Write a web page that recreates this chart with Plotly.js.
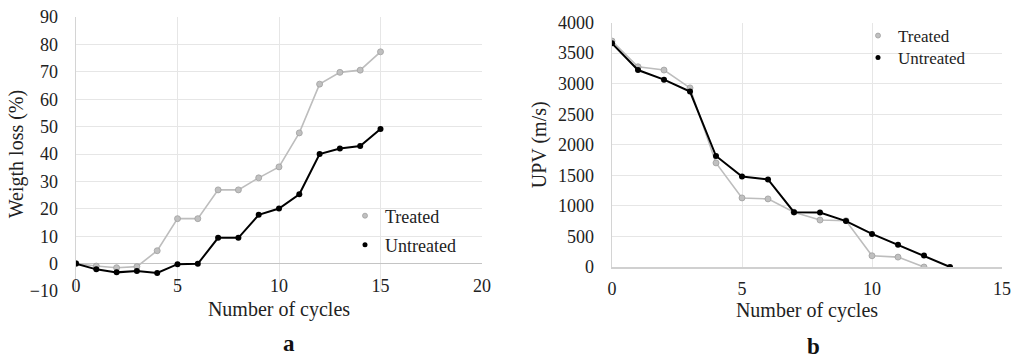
<!DOCTYPE html>
<html>
<head>
<meta charset="utf-8">
<script src="https://cdn.plot.ly/plotly-3.0.1.min.js"></script>
<style>html,body{margin:0;padding:0;background:#fff;}#chart{width:1011px;height:359px;}</style>
</head>
<body>
<div id="chart"></div>
<script>
// ---- data ----
const cyclesA = [0,1,2,3,4,5,6,7,8,9,10,11,12,13,14,15];
const treatedWeightLoss = [0,-0.9,-1.5,-1.1,4.7,16.4,16.4,26.9,26.9,31.3,35.3,47.7,65.5,69.8,70.6,77.3];
const untreatedWeightLoss = [0,-2.1,-3.2,-2.7,-3.4,-0.2,-0.1,9.4,9.4,17.8,20.1,25.3,40.0,42.0,42.9,49.1];
const cyclesTreatedB = [0,1,2,3,4,5,6,7,8,9,10,11,12];
const treatedUPV = [3697,3276,3222,2930,1703,1130,1114,897,768,757,184,162,0];
const cyclesUntreatedB = [0,1,2,3,4,5,6,7,8,9,10,11,12,13];
const untreatedUPV = [3659,3222,3065,2870,1816,1481,1432,897,892,751,541,362,189,0];
const seriesNames = ["Treated","Untreated"];
const panelLabels = ["a","b"];

const FONT = "'Liberation Serif', 'Times New Roman', serif";
const GRAY = "#bdbdbd";
const GRID = "#e6e6e6";

const grayLine = {color: GRAY, width: 1.6};
const grayMarker = {color: "#c0c0c0", size: 6, line: {color: "#a0a0a0", width: 0.8}};
const blackLine = {color: "#000", width: 2};
const blackMarker = {color: "#000", size: 6};
const grayLegMarker = {color: "#c0c0c0", size: 5, line: {color: "#a0a0a0", width: 0.8}};
const blackLegMarker = {color: "#000", size: 5};

const traces = [
  {x: cyclesA, y: treatedWeightLoss, xaxis: "x", yaxis: "y", mode: "lines+markers",
   line: grayLine, marker: grayMarker, showlegend: false, name: seriesNames[0]},
  {x: cyclesA, y: untreatedWeightLoss, xaxis: "x", yaxis: "y", mode: "lines+markers",
   line: blackLine, marker: blackMarker, showlegend: false, name: seriesNames[1]},
  {x: cyclesTreatedB, y: treatedUPV, xaxis: "x2", yaxis: "y2", mode: "lines+markers",
   line: grayLine, marker: grayMarker, showlegend: false, name: seriesNames[0]},
  {x: cyclesUntreatedB, y: untreatedUPV, xaxis: "x2", yaxis: "y2", mode: "lines+markers",
   line: blackLine, marker: blackMarker, showlegend: false, name: seriesNames[1]},
  // legend entries (marker only, as in the reference)
  {x: [null], y: [null], xaxis: "x", yaxis: "y", mode: "markers", name: seriesNames[0],
   marker: grayLegMarker, legend: "legend"},
  {x: [null], y: [null], xaxis: "x", yaxis: "y", mode: "markers", name: seriesNames[1],
   marker: blackLegMarker, legend: "legend2"},
  {x: [null], y: [null], xaxis: "x2", yaxis: "y2", mode: "markers", name: seriesNames[0],
   marker: grayLegMarker, legend: "legend3"},
  {x: [null], y: [null], xaxis: "x2", yaxis: "y2", mode: "markers", name: seriesNames[1],
   marker: blackLegMarker, legend: "legend4"}
];

const tickFont = {family: FONT, size: 18, color: "#222"};
const titleFont = {family: FONT, size: 20, color: "#222"};

function leg(xpx, ycenterpx, size) {
  return {
    x: xpx/1011, y: (359 - ycenterpx)/359, xanchor: "left", yanchor: "middle",
    bgcolor: "rgba(0,0,0,0)", borderwidth: 0, font: {family: FONT, size: size, color: "#222"},
    itemwidth: 30
  };
}
// white legend background boxes (cover the gridlines, like the reference)
function box(x0, y0, x1, y1) {
  return {type: "rect", xref: "paper", yref: "paper", layer: "between",
    x0: x0/1011, x1: x1/1011, y0: (359 - y1)/359, y1: (359 - y0)/359,
    fillcolor: "#fff", line: {width: 0}};
}

const layout = {
  width: 1011, height: 359,
  margin: {l: 0, r: 0, t: 0, b: 0},
  paper_bgcolor: "#fff", plot_bgcolor: "#fff",
  font: {family: FONT, color: "#222"},
  showlegend: true,
  hovermode: false,
  xaxis: {
    domain: [76/1011, 482/1011], range: [0, 20], dtick: 5, tick0: 0,
    showgrid: true, gridcolor: GRID, gridwidth: 1, zeroline: false,
    showline: false, ticks: "", tickfont: tickFont, ticklabelstandoff: -18,
    title: {text: "Number of cycles", font: titleFont, standoff: 6},
    automargin: false, anchor: "y", fixedrange: true
  },
  yaxis: {
    domain: [68/359, 342/359], range: [-10, 90], dtick: 10, tick0: 0,
    showgrid: true, gridcolor: GRID, gridwidth: 1,
    zeroline: true, zerolinecolor: "#c4c4c4", zerolinewidth: 1.6,
    showline: true, linecolor: "#d4d4d4", linewidth: 1.5,
    ticks: "", tickfont: tickFont, ticklabelstandoff: 13,
    title: {text: "Weigth loss (%)", font: titleFont, standoff: 0},
    automargin: false, anchor: "x", fixedrange: true
  },
  xaxis2: {
    domain: [612/1011, 1002/1011], range: [0, 15], dtick: 5, tick0: 0,
    showgrid: true, gridcolor: GRID, gridwidth: 1, zeroline: false,
    showline: true, linecolor: "#d0d0d0", linewidth: 2,
    ticks: "", tickfont: tickFont, ticklabelstandoff: 4,
    title: {text: "Number of cycles", font: titleFont, standoff: 5},
    automargin: false, anchor: "y2", fixedrange: true
  },
  yaxis2: {
    domain: [92/359, 336.5/359], range: [0, 4000], dtick: 500, tick0: 0,
    showgrid: true, gridcolor: GRID, gridwidth: 1, zeroline: false,
    showline: true, linecolor: "#d4d4d4", linewidth: 1.5,
    ticks: "", tickfont: tickFont, ticklabelstandoff: 13,
    title: {text: "UPV (m/s)", font: titleFont, standoff: 6},
    automargin: false, anchor: "x2", fixedrange: true
  },
  legend: leg(345, 216, 18),
  legend2: leg(345, 245, 18),
  legend3: leg(858, 36, 17),
  legend4: leg(858, 58, 17),
  shapes: [box(367, 199, 481, 261), box(866, 24, 1001, 75)],
  annotations: [
    {text: panelLabels[0], x: 289/1011, y: (359-343)/359, xref: "paper", yref: "paper",
     xanchor: "center", yanchor: "middle", showarrow: false,
     font: {family: FONT, size: 23, color: "#111", weight: "bold"}},
    {text: panelLabels[1], x: 813/1011, y: (359-346)/359, xref: "paper", yref: "paper",
     xanchor: "center", yanchor: "middle", showarrow: false,
     font: {family: FONT, size: 23, color: "#111", weight: "bold"}}
  ]
};

Plotly.newPlot("chart", traces, layout, {staticPlot: true, displayModeBar: false});
</script>
</body>
</html>
